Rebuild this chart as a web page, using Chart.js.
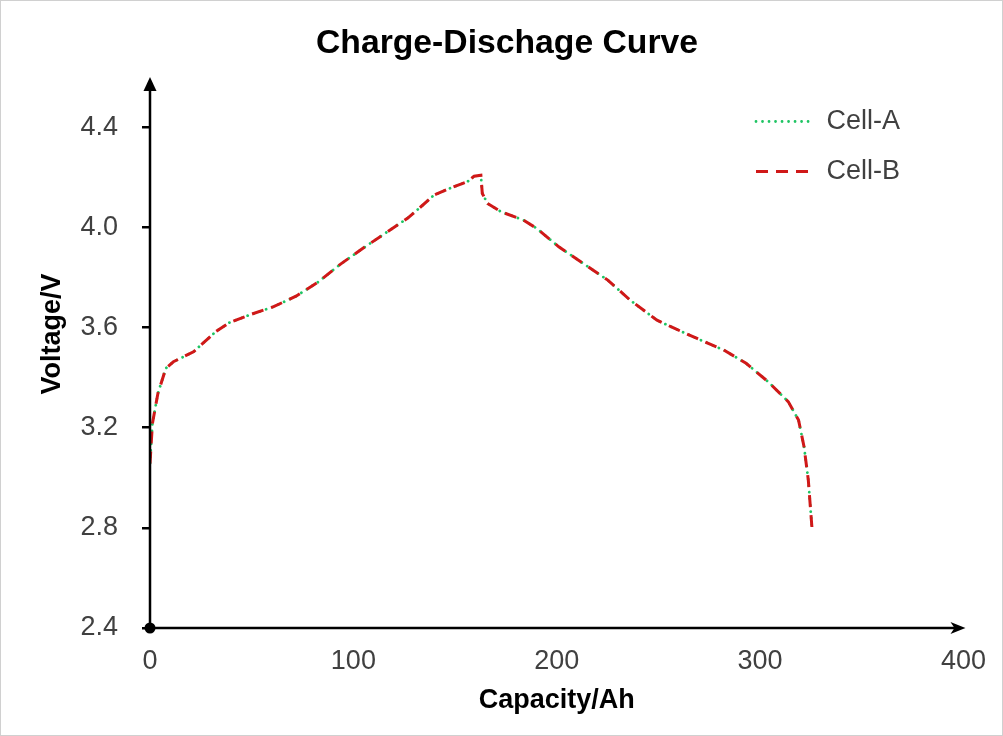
<!DOCTYPE html>
<html>
<head>
<meta charset="utf-8">
<script src="https://cdn.jsdelivr.net/npm/chart.js@4.4.0/dist/chart.umd.min.js"></script>
<style>
  html, body { margin: 0; padding: 0; background: #ffffff; }
  #wrap { width: 1003px; height: 736px; position: relative; }
</style>
</head>
<body>
<div id="wrap"><canvas id="c" width="1003" height="736"></canvas></div>
<script>
// ---- data ----
const capacity = [0, 1.2, 3.9, 7.8, 11.5, 21.4, 32.3, 38.9, 49.9, 60.8, 71.8, 82.8, 93.7, 104.7, 115.6, 126.6, 133.2, 139.7, 148.5, 156.1, 159.4, 162.7, 163.4, 166, 172.6, 183.5, 190.1, 201, 214.2, 225.1, 236.1, 249.3, 258, 269, 282.1, 293.1, 304, 313.9, 318.9, 321.6, 323.7, 325.5];
const cellAVoltage = [3.057, 3.217, 3.337, 3.437, 3.463, 3.503, 3.583, 3.619, 3.653, 3.683, 3.725, 3.782, 3.853, 3.916, 3.976, 4.036, 4.082, 4.129, 4.159, 4.182, 4.204, 4.208, 4.135, 4.095, 4.062, 4.029, 3.996, 3.922, 3.849, 3.789, 3.709, 3.629, 3.596, 3.556, 3.510, 3.457, 3.383, 3.303, 3.230, 3.124, 2.991, 2.800];
const cellBVoltage = [3.057, 3.217, 3.337, 3.437, 3.463, 3.503, 3.583, 3.619, 3.653, 3.683, 3.725, 3.782, 3.853, 3.916, 3.976, 4.036, 4.082, 4.129, 4.159, 4.182, 4.204, 4.208, 4.135, 4.095, 4.062, 4.029, 3.996, 3.922, 3.849, 3.789, 3.709, 3.629, 3.596, 3.556, 3.510, 3.457, 3.383, 3.303, 3.230, 3.124, 2.991, 2.800];
const seriesNames = ['Cell-A', 'Cell-B'];
const xTicks = [0, 100, 200, 300, 400];
const yTicks = [2.4, 2.8, 3.2, 3.6, 4.0, 4.4];
const xAxisMax = 400;
const yAxisTop = 4.6;      // where the arrow head of the y axis ends
const yScaleMax = 4.747;   // plot area reaches a bit higher (title centring)
const chartTitle = 'Charge-Dischage Curve';
const xTitle = 'Capacity/Ah';
const yTitle = 'Voltage/V';

const FONT = "'Liberation Sans', Arial, sans-serif";

function toPoints(xs, ys) { return xs.map((x, i) => ({ x: x, y: ys[i] })); }

const frame = {
  id: 'frame',
  beforeDraw(chart) {
    const ctx = chart.ctx;
    ctx.save();
    ctx.fillStyle = '#ffffff';
    ctx.fillRect(0, 0, chart.width, chart.height);
    ctx.strokeStyle = '#d0d0d0';
    ctx.lineWidth = 1;
    ctx.strokeRect(0.5, 0.5, chart.width - 1, chart.height - 1);
    ctx.restore();
  },
  afterLayout(chart) {
    const lg = chart.legend;
    if (lg) {
      const w = lg.width, h = lg.height;
      lg.left = 733; lg.top = 85;
      lg.right = lg.left + w; lg.bottom = lg.top + h;
    }
  },
  afterDatasetsDraw(chart) {
    const ctx = chart.ctx;
    const xs = chart.scales.x, ys = chart.scales.y;
    const x0 = xs.getPixelForValue(0);
    const y0 = ys.getPixelForValue(yTicks[0]);
    const yTop = ys.getPixelForValue(yAxisTop);
    const xEnd = xs.getPixelForValue(xAxisMax) + 2;
    ctx.save();
    ctx.strokeStyle = '#000';
    ctx.fillStyle = '#000';
    ctx.lineWidth = 2.5;
    // y axis
    ctx.beginPath();
    ctx.moveTo(x0, y0);
    ctx.lineTo(x0, yTop + 10);
    ctx.stroke();
    ctx.beginPath();
    ctx.moveTo(x0, yTop);
    ctx.lineTo(x0 - 6.5, yTop + 14);
    ctx.lineTo(x0 + 6.5, yTop + 14);
    ctx.closePath();
    ctx.fill();
    // x axis
    ctx.beginPath();
    ctx.moveTo(x0, y0);
    ctx.lineTo(xEnd - 10, y0);
    ctx.stroke();
    ctx.beginPath();
    ctx.moveTo(xEnd, y0);
    ctx.lineTo(xEnd - 15, y0 - 6);
    ctx.lineTo(xEnd - 11, y0);
    ctx.lineTo(xEnd - 15, y0 + 6);
    ctx.closePath();
    ctx.fill();
    // origin marker
    ctx.beginPath();
    ctx.arc(x0, y0, 5.5, 0, Math.PI * 2);
    ctx.fill();
    ctx.restore();
  }
};

new Chart(document.getElementById('c'), {
  type: 'scatter',
  data: {
    datasets: [
      {
        label: seriesNames[0],
        data: toPoints(capacity, cellAVoltage),
        showLine: true,
        borderColor: '#1fc463',
        backgroundColor: '#1fc463',
        borderWidth: 2.8,
        borderDash: [0.01, 6.5],
        borderCapStyle: 'round',
        pointRadius: 0,
        tension: 0,
        order: 1
      },
      {
        label: seriesNames[1],
        data: toPoints(capacity, cellBVoltage),
        showLine: true,
        borderColor: '#d01818',
        backgroundColor: '#d01818',
        borderWidth: 3,
        borderDash: [12, 8],
        borderCapStyle: 'butt',
        pointRadius: 0,
        tension: 0,
        order: 0
      }
    ]
  },
  options: {
    responsive: false,
    animation: false,
    devicePixelRatio: 1,
    layout: { padding: { left: 48, right: 37, top: 0, bottom: 0 } },
    plugins: {
      title: {
        display: true,
        text: chartTitle,
        color: '#000',
        font: { family: FONT, size: 33.7, weight: 'bold' },
        padding: { top: 23, bottom: -23.4 }
      },
      legend: {
        display: true,
        position: 'chartArea',
        align: 'start',
        labels: {
          usePointStyle: true,
          pointStyle: 'line',
          pointStyleWidth: 57,
          padding: 23,
          color: '#404040',
          font: { family: FONT, size: 27 },
          sort: (a, b) => a.datasetIndex - b.datasetIndex,
          generateLabels: (chart) => {
            const items = Chart.defaults.plugins.legend.labels.generateLabels(chart);
            items.forEach((it) => {
              const ds = chart.data.datasets[it.datasetIndex];
              it.lineDash = ds.borderDash;
              it.lineWidth = ds.borderWidth;
              it.lineCap = ds.borderCapStyle;
              it.strokeStyle = ds.borderColor;
            });
            return items;
          }
        }
      },
      tooltip: { enabled: false }
    },
    scales: {
      x: {
        type: 'linear',
        min: 0,
        max: xAxisMax,
        afterBuildTicks: (s) => { s.ticks = xTicks.map(v => ({ value: v })); },
        afterFit: (s) => { s.height = 108; },
        border: { display: false },
        grid: { display: false, drawTicks: false },
        ticks: {
          color: '#404040',
          padding: 17,
          font: { family: FONT, size: 27 },
          maxRotation: 0
        },
        title: {
          display: true,
          text: xTitle,
          color: '#000',
          font: { family: FONT, size: 27, weight: 'bold' },
          padding: { top: 0, bottom: 18.8 }
        }
      },
      y: {
        type: 'linear',
        min: yTicks[0],
        max: yScaleMax,
        afterBuildTicks: (s) => { s.ticks = yTicks.map(v => ({ value: v })); },
        afterFit: (s) => { s.width = 102; },
        border: { display: false },
        grid: { display: true, drawOnChartArea: false, drawTicks: true, tickLength: 8, color: '#000', lineWidth: 2.5 },
        ticks: {
          color: '#404040',
          padding: 24,
          font: { family: FONT, size: 27 },
          callback: (v) => Number(v).toFixed(1)
        },
        title: {
          display: true,
          text: yTitle,
          color: '#000',
          font: { family: FONT, size: 27, weight: 'bold' },
          padding: { top: -12, bottom: 0 }
        }
      }
    }
  },
  plugins: [frame]
});
</script>
</body>
</html>
